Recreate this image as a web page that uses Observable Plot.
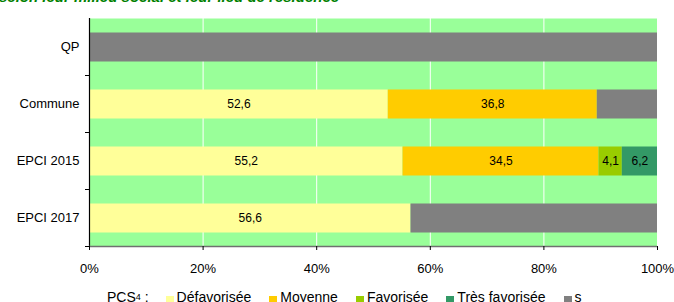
<!DOCTYPE html>
<html><head><meta charset="utf-8">
<script src="https://cdn.jsdelivr.net/npm/d3@7"></script>
<script src="https://cdn.jsdelivr.net/npm/@observablehq/plot@0.6"></script>
<style>
body{margin:0;background:#fff;font-family:"Liberation Sans",Arial,sans-serif;}
#wrap{position:relative;width:674px;height:302px;overflow:hidden;}
#title{position:absolute;left:-1px;top:-12px;color:#008000;font-weight:bold;font-style:italic;font-size:15px;white-space:nowrap;}
#chart{position:absolute;left:0;top:0;}
#legend{position:absolute;top:289px;left:107px;display:flex;align-items:center;font-size:14px;color:#000;white-space:nowrap;}
#legend .it{display:flex;align-items:center;margin-right:18px;}
#legend .sw{width:8px;height:8px;margin-right:3px;margin-top:5px;}
#legend sup{font-size:9px;}
</style></head>
<body>
<div id="wrap">
<div id="title">selon leur milieu social et leur lieu de résidence</div>
<div id="chart"></div>
<div id="legend"></div>
</div>
<script>
const categories = ["QP", "Commune", "EPCI 2015", "EPCI 2017"];
const pcs = ["Défavorisée", "Moyenne", "Favorisée", "Très favorisée", "s"];
const colors = ["#ffff99", "#ffcc00", "#99cc00", "#339966", "#808080"];
const valuesQP = [0, 0, 0, 0, 100];
const valuesCommune = [52.6, 36.8, 0, 0, 10.6];
const valuesEPCI2015 = [55.2, 34.5, 4.1, 6.2, 0];
const valuesEPCI2017 = [56.6, 0, 0, 0, 43.4];
const xTicks = [0, 20, 40, 60, 80, 100];

const series = [valuesQP, valuesCommune, valuesEPCI2015, valuesEPCI2017];
const data = [];
categories.forEach((c, i) => pcs.forEach((p, j) => data.push({cat: c, pcs: p, value: series[i][j]})));

const fmt = v => v.toFixed(1).replace(".", ",");
const half = 28.5;

const plot = Plot.plot({
  width: 674,
  height: 284,
  marginLeft: 89,
  marginRight: 17,
  marginTop: 18,
  marginBottom: 38,
  style: {fontFamily: '"Liberation Sans", Arial, sans-serif', fontSize: "13px", color: "#000", background: "transparent"},
  x: {domain: [0, 100], ticks: xTicks, tickFormat: d => d + "%", label: null},
  y: {domain: categories, padding: 0, label: null},
  color: {domain: pcs, range: colors},
  marks: [
    Plot.frame({fill: "#99ff99", stroke: null}),
    Plot.gridX(xTicks, {stroke: "#fff", strokeOpacity: 1, strokeWidth: 1}),
    Plot.barX(data, Plot.stackX({x: "value", y: "cat", fill: "pcs", insetTop: 14.5, insetBottom: 13.5})),
    Plot.text(data, Plot.stackX({filter: d => d.pcs !== "s" && d.value > 0, x: "value", y: "cat", z: "pcs", text: d => fmt(d.value), fontSize: 12, fill: "#000", dy: 0.5})),
    Plot.ruleX([0], {stroke: "#000", strokeWidth: 1.2}),
    Plot.ruleY([categories[categories.length - 1]], {dy: half, stroke: "#707070", strokeWidth: 1.5}),
    Plot.axisX({ticks: xTicks, tickSize: 4, tickPadding: 13, tickFormat: d => d + "%", fontSize: 13, stroke: "#000"}),
    Plot.axisY({tickSize: 0, tickPadding: 10, fontSize: 13}),
    Plot.axisY({tickSize: 4, text: null, dy: half, stroke: "#000"})
  ]
});
document.getElementById("chart").appendChild(plot);

const legend = document.getElementById("legend");
const lab = document.createElement("div");
lab.className = "it";
lab.style.marginRight = "17px";
lab.innerHTML = "PCS<sup>4</sup>&nbsp;:";
legend.appendChild(lab);
pcs.forEach((p, i) => {
  const it = document.createElement("div");
  it.className = "it";
  it.innerHTML = `<span class="sw" style="background:${colors[i]}"></span><span>${p}</span>`;
  legend.appendChild(it);
});
</script>
</body></html>
